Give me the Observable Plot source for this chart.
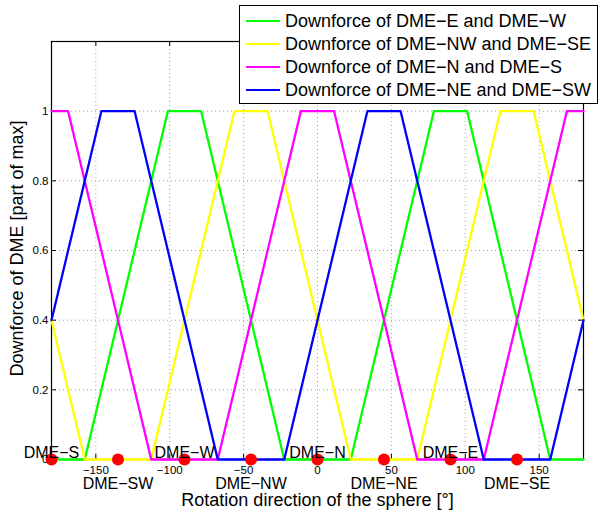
<!DOCTYPE html>
<html><head><meta charset="utf-8">
<script src="https://cdn.jsdelivr.net/npm/d3@7"></script>
<script src="https://cdn.jsdelivr.net/npm/@observablehq/plot@0.6"></script>
<style>
body{margin:0;background:#fff;font-family:"Liberation Sans",Arial,Helvetica,sans-serif;}
#wrap{position:relative;width:599px;height:515px;}
#legend{position:absolute;left:239px;top:5px;width:359px;height:99px;border:1.5px solid #000;background:#fff;box-sizing:border-box;}
.item{position:absolute;left:0;height:22px;display:flex;align-items:center;font-family:"Liberation Sans",Arial,Helvetica,sans-serif;font-size:18px;color:#000;white-space:nowrap;}
.sw{width:34px;height:2.5px;margin-left:6px;margin-right:5px;}
</style></head>
<body><div id="wrap"><div id="chart"></div><div id="legend"></div></div>
<script>
const seriesNames = ["Downforce of DME−E and DME−W", "Downforce of DME−NW and DME−SE", "Downforce of DME−N and DME−S", "Downforce of DME−NE and DME−SW"];
const seriesColors = ["#00ff00", "#ffff00", "#ff00ff", "#0000ff"];
const greenX = [-180, -157.5, -101.25, -78.75, -22.5, 22.5, 78.75, 101.25, 157.5, 180];
const greenY = [0, 0, 1, 1, 0, 0, 1, 1, 0, 0];
const yellowX = [-180, -157.5, -112.5, -56.25, -33.75, 22.5, 67.5, 123.75, 146.25, 180];
const yellowY = [0.4, 0, 0, 1, 1, 0, 0, 1, 1, 0.4];
const magentaX = [-180, -168.75, -112.5, -67.5, -11.25, 11.25, 67.5, 112.5, 168.75, 180];
const magentaY = [1, 1, 0, 0, 1, 1, 0, 0, 1, 1];
const blueX = [-180, -146.25, -123.75, -67.5, -22.5, 33.75, 56.25, 112.5, 157.5, 180];
const blueY = [0.4, 1, 1, 0, 0, 1, 1, 0, 0, 0.4];
const dmeAngles = [-180, -135, -90, -45, 0, 45, 90, 135];
const dmeNames = ["DME−S", "DME−SW", "DME−W", "DME−NW", "DME−N", "DME−NE", "DME−E", "DME−SE"];
const xTicks = [-150, -100, -50, 0, 50, 100, 150];
const yTicks = [0, 0.2, 0.4, 0.6, 0.8, 1];
const xLabel = "Rotation direction of the sphere [°]";
const yLabel = "Downforce of DME [part of max]";

const allX = [greenX, yellowX, magentaX, blueX];
const allY = [greenY, yellowY, magentaY, blueY];
const lineData = [];
allX.forEach((xs, k) => xs.forEach((x, i) => lineData.push({s: seriesNames[k], x, y: allY[k][i]})));
const dmes = dmeAngles.map((a, i) => ({a, name: dmeNames[i], above: i % 2 === 0}));

const font = '"Liberation Sans",Arial,Helvetica,sans-serif';
const grid = {stroke: "#a0a0a0", strokeOpacity: 1, strokeWidth: 1, strokeDasharray: "1,3"};
const minus = d => (d < 0 ? "−" + Math.abs(d) : String(d));
const chart = Plot.plot({
  width: 599, height: 515,
  marginLeft: 51, marginRight: 16, marginTop: 41, marginBottom: 56,
  x: {domain: [-180, 180]},
  y: {domain: [0, 1.2]},
  color: {domain: seriesNames, range: seriesColors},
  style: {fontFamily: font, fontSize: "11.5px", color: "#000", background: "#fff", overflow: "visible"},
  marks: [
    Plot.gridX(xTicks, grid),
    Plot.gridY(yTicks, grid),
    Plot.ruleX(xTicks, {x: d => d, y1: 0, y2: 0, insetBottom: 5, stroke: "#000"}),
    Plot.ruleX(xTicks, {x: d => d, y1: 1.2, y2: 1.2, insetBottom: -5, stroke: "#000"}),
    Plot.ruleY(yTicks, {y: d => d, x1: -180, x2: -180, insetRight: -5, stroke: "#000"}),
    Plot.ruleY(yTicks, {y: d => d, x1: 180, x2: 180, insetLeft: -5, stroke: "#000"}),
    Plot.axisX({ticks: xTicks, tickSize: 0, tickPadding: 6, tickFormat: minus, label: null}),
    Plot.axisY({ticks: yTicks, tickSize: 0, tickPadding: 3, tickFormat: minus, label: null}),
    Plot.frame({stroke: "#000", strokeWidth: 1.2}),
    Plot.line(lineData, {x: "x", y: "y", z: "s", stroke: "s", strokeWidth: 2.3}),
    Plot.dot(dmes, {x: "a", y: () => 0, r: 6, fill: "#ff0000", stroke: "none"}),
    Plot.text(dmes.filter(d => d.above), {x: "a", y: () => 0, text: "name", dy: -7, fontSize: 16}),
    Plot.text(dmes.filter(d => !d.above), {x: "a", y: () => 0, text: "name", dy: 24, fontSize: 16}),
    Plot.text([xLabel], {frameAnchor: "bottom", text: d => d, dy: 41, lineAnchor: "middle", textAnchor: "middle", fontSize: 18}),
    Plot.text([yLabel], {frameAnchor: "left", text: d => d, dx: -34, dy: -2, rotate: -90, lineAnchor: "middle", textAnchor: "middle", fontSize: 18})
  ]
});
document.getElementById("chart").appendChild(chart);

const legend = document.getElementById("legend");
const rowTops = [4, 27, 50, 73];
seriesNames.forEach((n, i) => {
  const it = document.createElement("div");
  it.className = "item";
  it.style.top = rowTops[i] + "px";
  const sw = document.createElement("div");
  sw.className = "sw";
  sw.style.background = seriesColors[i];
  const t = document.createElement("span");
  t.textContent = n;
  it.appendChild(sw); it.appendChild(t);
  legend.appendChild(it);
});
</script></body></html>
